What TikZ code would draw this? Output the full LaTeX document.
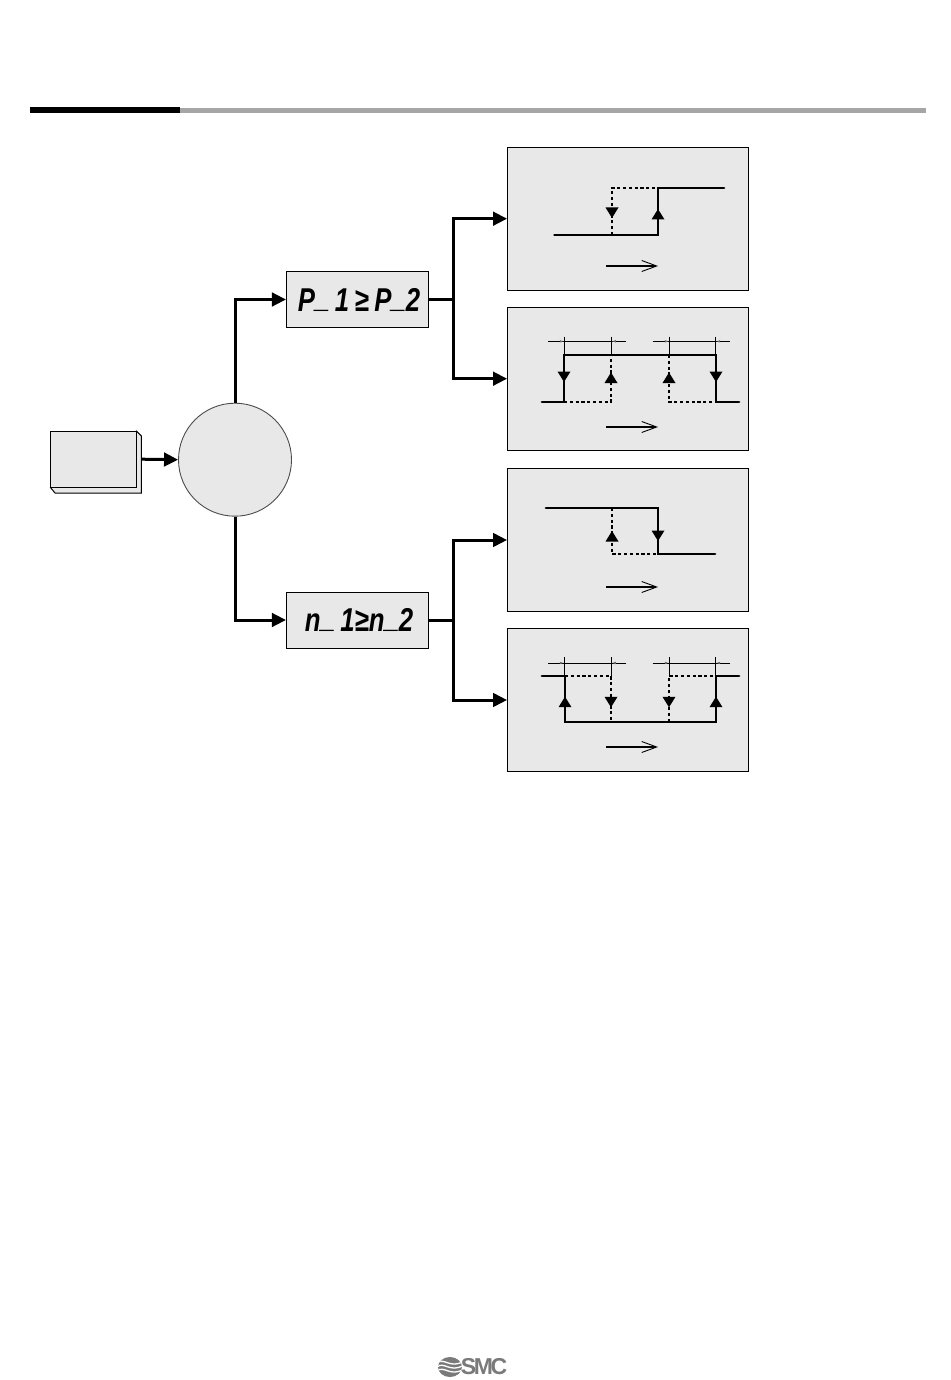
\documentclass[tikz,border=0pt]{standalone}
\usepackage{fontspec}
\usepackage{tikz}
\usetikzlibrary{arrows.meta,calc,positioning}
\setmainfont{Liberation Sans}
\newfontfamily\logofont[LetterSpace=-10]{Liberation Sans}
\newfontfamily\segfont[FakeStretch=0.78]{Liberation Sans}
\definecolor{Ink}{HTML}{000000}
\definecolor{Panel}{HTML}{E8E8E8}
\definecolor{Rule}{HTML}{A6A6A6}
\definecolor{Logo}{HTML}{7A7A7A}
\tikzset{
  panelbox/.style={draw=Ink,fill=Panel,line width=0.9pt,minimum width=241pt,minimum height=143pt,inner sep=0pt},
  dispbox/.style={draw=Ink,fill=Panel,line width=0.9pt,minimum width=142pt,minimum height=56pt,inner sep=0pt,font=\segfont\bfseries\itshape\fontsize{33}{33}\selectfont},
  flow/.style={line width=3pt,-{Triangle[length=14pt,width=13.5pt]}},
  trace/.style={line width=2.8pt,line cap=round},
  dashtrace/.style={line width=2.3pt,dash pattern=on 3.2pt off 2.6pt},
  dimline/.style={line width=0.7pt},
  axisarrow/.style={line width=1.2pt,-{Straight Barb[length=15pt,width=11pt,line width=0.9pt]}}
}
\newcommand{\uphead}[2]{\fill[Ink] (#1,#2) -- ++(6.5,10.5) -- ++(-13,0) -- cycle;}
\newcommand{\downhead}[2]{\fill[Ink] (#1,#2) -- ++(6.5,-10.5) -- ++(-13,0) -- cycle;}
\newcommand{\lowbar}{\raisebox{4pt}{\_}}
\begin{document}
\begin{tikzpicture}[x=1pt,y=-1pt]
  \useasboundingbox (0,0) rectangle (950,1380);
  \fill[white] (0,0) rectangle (950,1380);
  % header rule
  \fill[Rule] (180,108) rectangle (926,113);
  \fill[Ink] (30,107.5) rectangle (180,113.5);
  % input block and circle
  \filldraw[fill=Panel,draw=Ink,line width=1pt] (136.5,431) -- (141.3,436) -- (141.3,493) -- (55,493) -- (50.5,487.5) -- cycle;
  \node[draw=Ink,fill=Panel,line width=0.9pt,minimum width=86pt,minimum height=56.5pt,inner sep=0pt] (inblock) at (93.5,459.2) {};
  \node[circle,draw=Ink!70,fill=Panel,line width=0.9pt,minimum size=113pt,inner sep=0pt] (selector) at (235,459.7) {};
  % displays
  \node[dispbox] (dispP) at (357.4,299.5) {\hspace*{3.2pt}P\lowbar\,1\,≥\,P\lowbar 2};
  \node[dispbox] (dispN) at (357.4,620) {\hspace*{3.2pt}n\lowbar\,1≥n\lowbar 2};
  % panels
  \node[panelbox] (panelA) at (628,218.7) {};
  \node[panelbox] (panelB) at (628,378.7) {};
  \node[panelbox] (panelC) at (628,540) {};
  \node[panelbox] (panelD) at (628,700) {};
  % connectors
  \coordinate (forkP) at (453,299.5);
  \coordinate (forkN) at (453,620);
  \draw[flow] ([xshift=4.8pt]inblock.east) -- (selector.west);
  \draw[flow] (selector.north) |- (dispP.west);
  \draw[flow] (selector.south) |- (dispN.west);
  \draw[flow] (dispP.east) -- (forkP) |- (panelA.west);
  \draw[flow] (forkP) |- (panelB.west);
  \draw[flow] (dispN.east) -- (forkN) |- (panelC.west);
  \draw[flow] (forkN) |- (panelD.west);
  % axis arrows
  \foreach \name/\y in {panelA/266,panelB/427,panelC/587,panelD/747}{
    \draw[axisarrow] (606,\y) -- (658,\y);
  }
  % panel A
  \draw[dashtrace] (612,235) -- (612,188) -- (658,188);
  \draw[trace] (554.5,235) -- (658,235) -- (658,188) -- (724,188);
  \downhead{612}{218}
  \uphead{658}{209}
  % panel B
  \draw[dashtrace] (564,402) -- (611,402) -- (611,355);
  \draw[dashtrace] (669,355) -- (669,402) -- (716,402);
  \draw[trace] (542,402) -- (564,402) -- (564,355) -- (716,355) -- (716,402) -- (739,402);
  \downhead{564}{382}
  \uphead{611}{372.5}
  \uphead{669}{372.5}
  \downhead{716}{382}
  % panel C
  \draw[dashtrace] (612,508) -- (612,554) -- (658,554);
  \draw[trace] (546,508) -- (658,508) -- (658,554) -- (715,554);
  \uphead{612}{531}
  \downhead{658}{541}
  % panel D
  \draw[dashtrace] (565,676) -- (611,676) -- (611,722);
  \draw[dashtrace] (669,722) -- (669,676) -- (716,676);
  \draw[trace] (542,676) -- (565,676) -- (565,722) -- (716,722) -- (716,676) -- (739,676);
  \uphead{565}{696.7}
  \downhead{611}{707.3}
  \downhead{669}{707.3}
  \uphead{716}{696.7}
  % dimension marks
  \foreach \y/\top/\bot in {341.3/336.7/354.7,663/657/676}{
    \draw[dimline] (548,\y) -- (625.7,\y);
    \draw[dimline] (652.7,\y) -- (730.3,\y);
    \foreach \x in {564.3,611.3,669.3,715.7}{
      \draw[dimline] (\x,\top) -- (\x,\bot);
    }
    \foreach \x/\d in {564.3/-1,611.3/1,669.3/-1,715.7/1}{
      \fill[Ink!60] (\x+\d*1,\y) -- ++(\d*3.5,-1.2) -- ++(0,2.4) -- cycle;
    }
  }
  % logo
  \begin{scope}
    \clip (450,1367) ellipse (12 and 10);
    \fill[Logo] (450,1367) ellipse (12 and 10);
    \foreach \y in {-4,0,4}{
      \draw[white,line width=1.3pt] (437,1367+\y) .. controls (444,1367+\y-6) and (450,1367+\y+6) .. (463,1367+\y-1.5);
    }
  \end{scope}
  \node[font=\logofont\bfseries\fontsize{23}{23}\selectfont,text=Logo,inner sep=0pt] (brand) at (484,1366.5) {SMC};
\end{tikzpicture}
\end{document}
